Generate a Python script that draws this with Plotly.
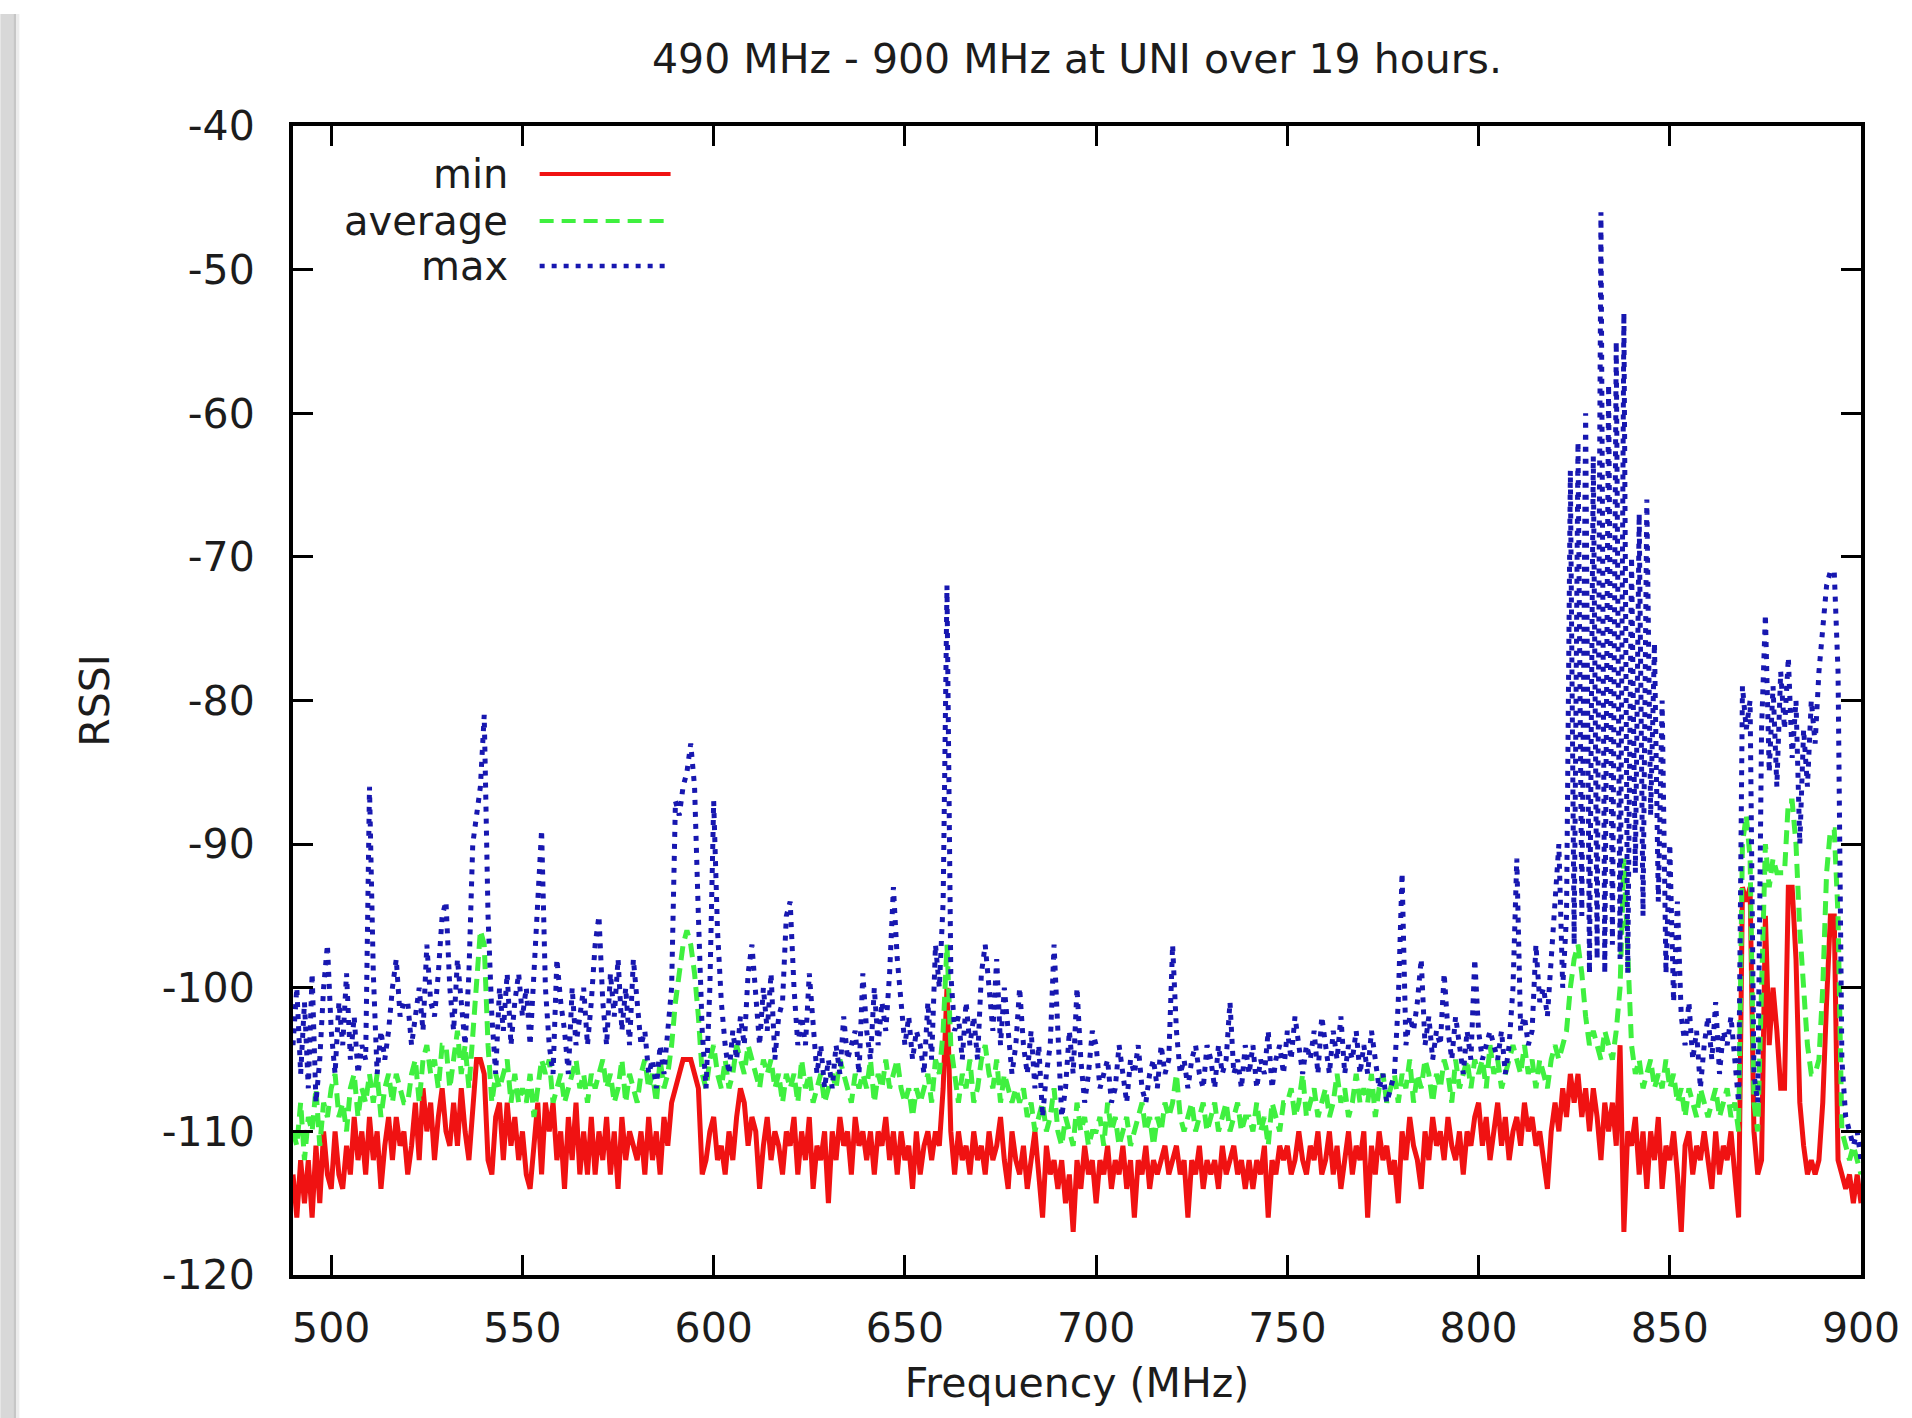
import plotly.graph_objects as go

# ---------------- data (RSSI, 1 MHz steps) ----------------
freq_mhz = list(range(490, 901))

rssi_min = [
    -113, -116, -112, -115, -112, -116, -111, -115, -110, -113,  # 490
    -114, -110, -113, -114, -111, -113, -109, -112, -110, -113,  # 500
    -109, -112, -110, -114, -111, -109, -112, -109, -111, -110,  # 510
    -113, -111, -108, -112, -107, -110, -108, -112, -109, -107,  # 520
    -110, -111, -108, -111, -107, -110, -112, -108, -105, -105,  # 530
    -106, -112, -113, -109, -108, -112, -108, -111, -109, -112,  # 540
    -110, -113, -114, -111, -108, -113, -108, -110, -108, -112,  # 550
    -110, -114, -109, -112, -108, -113, -110, -113, -109, -113,  # 560
    -110, -112, -109, -113, -110, -114, -109, -112, -110, -111,  # 570
    -112, -110, -113, -109, -112, -110, -113, -109, -111, -108,  # 580
    -107, -106, -105, -105, -105, -106, -107, -113, -112, -110,  # 590
    -109, -112, -111, -113, -110, -112, -109, -107, -108, -111,  # 600
    -109, -110, -114, -111, -109, -112, -110, -111, -113, -110,  # 610
    -111, -109, -113, -110, -112, -109, -114, -111, -112, -110,  # 620
    -115, -110, -112, -109, -111, -110, -113, -109, -111, -110,  # 630
    -112, -110, -113, -110, -111, -109, -112, -110, -113, -110,  # 640
    -112, -111, -114, -110, -113, -111, -110, -112, -110, -111,  # 650
    -107, -100, -110, -113, -110, -112, -111, -113, -110, -112,  # 660
    -111, -113, -110, -112, -111, -109, -112, -114, -110, -112,  # 670
    -113, -111, -114, -112, -110, -113, -116, -111, -113, -112,  # 680
    -114, -112, -115, -113, -117, -112, -114, -111, -113, -112,  # 690
    -115, -112, -113, -111, -114, -112, -113, -111, -114, -112,  # 700
    -116, -112, -113, -111, -114, -112, -113, -112, -111, -113,  # 710
    -112, -111, -113, -112, -116, -112, -113, -111, -114, -112,  # 720
    -113, -112, -114, -111, -113, -112, -111, -113, -112, -114,  # 730
    -112, -114, -112, -113, -111, -116, -112, -113, -111, -112,  # 740
    -111, -113, -112, -110, -112, -113, -111, -112, -110, -113,  # 750
    -112, -110, -113, -111, -114, -112, -110, -113, -111, -112,  # 760
    -110, -116, -111, -113, -110, -112, -111, -113, -112, -115,  # 770
    -110, -112, -109, -111, -112, -114, -110, -112, -109, -111,  # 780
    -110, -112, -109, -111, -112, -110, -113, -110, -111, -109,  # 790
    -108, -111, -109, -112, -110, -108, -111, -109, -112, -110,  # 800
    -109, -111, -108, -110, -109, -111, -110, -112, -114, -110,  # 810
    -108, -110, -107, -109, -106, -108, -106, -109, -107, -110,  # 820
    -107, -109, -112, -108, -110, -108, -111, -104, -117, -110,  # 830
    -111, -109, -113, -110, -114, -110, -112, -109, -114, -111,  # 840
    -112, -110, -113, -117, -111, -110, -113, -111, -112, -110,  # 850
    -112, -114, -110, -113, -111, -112, -110, -113, -116, -93,   # 860
    -94, -93, -110, -113, -112, -95, -104, -100, -103, -107,     # 870
    -107, -93, -93, -98, -108, -111, -113, -112, -113, -112,     # 880
    -108, -101, -95, -95, -112, -113, -114, -113, -115, -113,    # 890
    -115,                                                        # 900
]

rssi_average = [
    -110, -111, -108, -112, -109, -110, -107, -111, -108, -109,  # 490
    -107, -106, -109, -108, -110, -107, -106, -109, -107, -108,  # 500
    -106, -108, -106, -109, -107, -106, -108, -106, -107, -108,  # 510
    -108, -106, -105, -108, -105, -104, -106, -105, -107, -104,  # 520
    -104, -107, -105, -103, -106, -104, -107, -103, -99, -96,    # 530
    -97, -104, -108, -106, -107, -106, -105, -108, -106, -108,   # 540
    -107, -108, -106, -109, -107, -105, -106, -105, -108, -107,  # 550
    -106, -108, -107, -106, -105, -107, -106, -108, -106, -107,  # 560
    -106, -105, -107, -106, -108, -107, -105, -108, -106, -107,  # 570
    -108, -106, -105, -107, -106, -108, -105, -107, -106, -104,  # 580
    -101, -99, -97, -96, -97, -99, -102, -106, -107, -105,       # 590
    -104, -106, -107, -105, -107, -106, -104, -105, -106, -104,  # 600
    -105, -106, -107, -105, -106, -105, -107, -106, -108, -106,  # 610
    -107, -106, -108, -105, -107, -106, -108, -107, -106, -108,  # 620
    -107, -106, -107, -105, -106, -107, -108, -106, -107, -106,  # 630
    -107, -105, -108, -106, -107, -105, -107, -106, -105, -107,  # 640
    -108, -107, -109, -107, -108, -107, -106, -108, -105, -106,  # 650
    -103, -97, -104, -106, -108, -106, -107, -105, -108, -107,   # 660
    -105, -104, -106, -107, -105, -108, -106, -107, -108, -107,  # 670
    -108, -107, -109, -108, -110, -109, -108, -110, -109, -107,  # 680
    -110, -111, -109, -110, -111, -108, -110, -109, -111, -110,  # 690
    -110, -109, -111, -108, -110, -109, -111, -110, -109, -111,  # 700
    -110, -109, -108, -110, -109, -111, -109, -110, -108, -109,  # 710
    -108, -106, -109, -110, -109, -108, -110, -109, -108, -110,  # 720
    -109, -108, -110, -109, -108, -110, -109, -108, -110, -109,  # 730
    -109, -110, -108, -110, -109, -111, -108, -109, -110, -108,  # 740
    -108, -107, -109, -108, -106, -109, -108, -107, -109, -108,  # 750
    -107, -109, -108, -106, -108, -107, -109, -108, -106, -108,  # 760
    -107, -108, -106, -109, -107, -106, -108, -107, -106, -108,  # 770
    -106, -107, -105, -108, -106, -107, -105, -106, -108, -106,  # 780
    -107, -105, -106, -108, -105, -107, -106, -105, -107, -105,  # 790
    -106, -105, -107, -104, -106, -105, -107, -106, -105, -104,  # 800
    -105, -106, -104, -106, -105, -107, -105, -106, -107, -105,  # 810
    -104, -105, -104, -103, -100, -98, -97, -99, -102, -104,     # 820
    -103, -104, -105, -103, -104, -105, -103, -100, -91, -97,    # 830
    -104, -106, -105, -107, -106, -105, -107, -106, -107, -105,  # 840
    -107, -106, -108, -107, -109, -107, -108, -109, -107, -108,  # 850
    -109, -108, -107, -109, -108, -107, -109, -108, -110, -90,   # 860
    -88, -91, -108, -110, -100, -90, -93, -91, -92, -92,         # 870
    -92, -87, -87, -90, -96, -100, -104, -106, -106, -105,       # 880
    -100, -92, -89, -89, -95, -110, -111, -112, -111, -112,      # 890
    -113,                                                        # 900
]

rssi_max = [
    -104, -100, -106, -101, -107, -99, -108, -105, -100, -97,    # 490
    -103, -106, -101, -104, -99, -105, -102, -106, -104, -105,   # 500
    -86, -99, -106, -103, -105, -103, -100, -98, -102, -101,     # 510
    -101, -104, -102, -100, -103, -97, -101, -102, -99, -95,     # 520
    -94, -100, -103, -98, -101, -104, -99, -90, -88, -86,        # 530
    -81, -95, -102, -106, -100, -103, -99, -104, -101, -99,      # 540
    -102, -100, -104, -99, -95, -89, -100, -104, -106, -98,      # 550
    -101, -103, -106, -100, -104, -102, -100, -104, -101, -97,   # 560
    -95, -101, -104, -99, -102, -98, -103, -100, -104, -98,      # 570
    -101, -104, -103, -106, -105, -107, -104, -106, -103, -100,  # 580
    -87, -88, -86, -85, -83, -86, -95, -103, -107, -100,         # 590
    -87, -96, -101, -104, -106, -103, -105, -102, -104, -99,     # 600
    -97, -101, -104, -100, -103, -99, -105, -102, -101, -95,     # 610
    -94, -100, -104, -102, -104, -99, -103, -106, -104, -107,    # 620
    -105, -107, -104, -106, -102, -105, -104, -103, -106, -99,   # 630
    -103, -105, -100, -104, -101, -103, -99, -93, -98, -101,     # 640
    -104, -102, -105, -103, -104, -106, -101, -105, -97, -100,   # 650
    -94, -72, -99, -103, -102, -105, -101, -104, -102, -105,     # 660
    -99, -97, -100, -103, -98, -104, -100, -103, -106, -104,     # 670
    -100, -104, -106, -103, -107, -104, -109, -106, -104, -97,   # 680
    -104, -109, -107, -103, -106, -100, -105, -108, -106, -103,  # 690
    -104, -107, -106, -105, -108, -107, -104, -106, -108, -105,  # 700
    -106, -104, -107, -108, -106, -105, -107, -104, -106, -105,  # 710
    -97, -103, -106, -105, -107, -105, -104, -106, -107, -104,   # 720
    -105, -107, -104, -106, -105, -101, -106, -105, -107, -104,  # 730
    -106, -104, -107, -105, -106, -103, -107, -105, -104, -106,  # 740
    -103, -105, -102, -104, -106, -104, -105, -103, -106, -102,  # 750
    -104, -106, -103, -105, -102, -106, -104, -105, -103, -106,  # 760
    -104, -106, -103, -105, -107, -106, -108, -107, -106, -101,  # 770
    -92, -104, -102, -103, -101, -98, -104, -102, -105, -103,    # 780
    -104, -99, -103, -105, -102, -104, -106, -103, -105, -98,    # 790
    -103, -105, -104, -103, -104, -105, -103, -106, -104, -100,  # 800
    -91, -103, -102, -104, -103, -97, -101, -100, -102, -98,     # 810
    -94, -90, -100, -95, -64, -97, -62, -95, -60, -99,           # 820
    -63, -98, -46, -99, -58, -97, -55, -98, -53, -99,            # 830
    -70, -92, -67, -95, -66, -88, -76, -94, -80, -99,            # 840
    -90, -101, -94, -102, -104, -101, -105, -103, -107, -104,    # 850
    -102, -105, -101, -106, -103, -104, -102, -105, -108, -79,   # 860
    -82, -80, -106, -108, -82, -74, -85, -79, -86, -78,          # 870
    -82, -77, -84, -80, -90, -82, -86, -80, -83, -78,            # 880
    -75, -72, -71, -71, -78, -105, -109, -110, -111, -110,       # 890
    -112,                                                        # 900
]

series_names = ["min", "average", "max"]
x_tick_vals = [500, 550, 600, 650, 700, 750, 800, 850, 900]
x_tick_text = ["500", "550", "600", "650", "700", "750", "800", "850", "900"]
y_tick_vals = [-120, -110, -100, -90, -80, -70, -60, -50, -40]
y_tick_text = ["-120", "-110", "-100", "-90", "-80", "-70", "-60", "-50", "-40"]

assert len(rssi_min) == len(freq_mhz) == len(rssi_average) == len(rssi_max)

# ---------------- styling ----------------
FONT = "DejaVu Sans"
TXT = "#1c1c1c"
COL_MIN = "#f01212"
COL_AVG = "#3ff03f"
COL_MAX = "#1717b0"
DASH_AVG = "14px,8px"
DASH_MAX = "5px,7px"
W_MIN, W_AVG, W_MAX = 5, 5, 5

fig = go.Figure()
fig.add_trace(go.Scatter(x=freq_mhz, y=rssi_min, mode="lines", name=series_names[0],
                         line=dict(color=COL_MIN, width=W_MIN), showlegend=False))
fig.add_trace(go.Scatter(x=freq_mhz, y=rssi_average, mode="lines", name=series_names[1],
                         line=dict(color=COL_AVG, width=W_AVG, dash=DASH_AVG), showlegend=False))
fig.add_trace(go.Scatter(x=freq_mhz, y=rssi_max, mode="lines", name=series_names[2],
                         line=dict(color=COL_MAX, width=W_MAX, dash=DASH_MAX), showlegend=False))

axis_common = dict(
    showgrid=False, zeroline=False, showline=True, linecolor="black", linewidth=4,
    mirror="ticks", ticks="inside", ticklen=20, tickwidth=3, tickcolor="black",
    tickfont=dict(family=FONT, size=41, color=TXT),
)

fig.update_xaxes(range=[490, 900], tickmode="array", tickvals=x_tick_vals, ticktext=x_tick_text,
                 title=dict(text="Frequency (MHz)", font=dict(family=FONT, size=41, color=TXT), standoff=18),
                 ticklabelstandoff=14, **axis_common)
fig.update_yaxes(range=[-120, -40], tickmode="array", tickvals=y_tick_vals, ticktext=y_tick_text,
                 title=dict(text="RSSI", font=dict(family=FONT, size=41, color=TXT), standoff=40),
                 ticklabelstandoff=26, **axis_common)

# custom gnuplot-style key: label on the left, line sample on the right
key_styles = [dict(color=COL_MIN, width=4), dict(color=COL_AVG, width=4, dash=DASH_AVG),
              dict(color=COL_MAX, width=4.5, dash=DASH_MAX)]
key_y = [0.9582, 0.9173, 0.8781]
shapes = []
annotations = []
for name, st, ky in zip(series_names, key_styles, key_y):
    annotations.append(dict(text=name, xref="paper", yref="paper", x=0.1382, y=ky,
                            xanchor="right", yanchor="middle", showarrow=False,
                            font=dict(family=FONT, size=40, color=TXT)))
    shapes.append(dict(type="line", xref="paper", yref="paper", x0=0.1573, x1=0.2408,
                       y0=ky, y1=ky, line=st))

# grey page-edge strip at the left of the picture
for x0, x1, c in [(0, 13, "#d8d8d8"), (13, 16, "#c6c6c6"), (16, 19, "#ececec")]:
    shapes.append(dict(type="rect", xref="paper", yref="paper",
                       x0=(x0 - 293) / 1570, x1=(x1 - 293) / 1570,
                       y0=(1275 - 1418) / 1149, y1=(1275 - 14) / 1149,
                       line=dict(width=0), fillcolor=c, layer="below"))

fig.update_layout(
    width=1912, height=1418,
    margin=dict(l=293, r=49, t=126, b=143),
    paper_bgcolor="white", plot_bgcolor="white",
    title=dict(text="490 MHz - 900 MHz at UNI over 19 hours.", x=0.5, xref="paper",
               y=1 - 59 / 1418, yref="container", xanchor="center", yanchor="middle",
               font=dict(family=FONT, size=41, color=TXT)),
    font=dict(family=FONT, color=TXT),
    shapes=shapes, annotations=annotations,
    showlegend=False,
)

fig.write_html("out.html", config={"displayModeBar": False},
               post_script="document.body.style.margin='0';document.body.style.overflow='hidden';")
